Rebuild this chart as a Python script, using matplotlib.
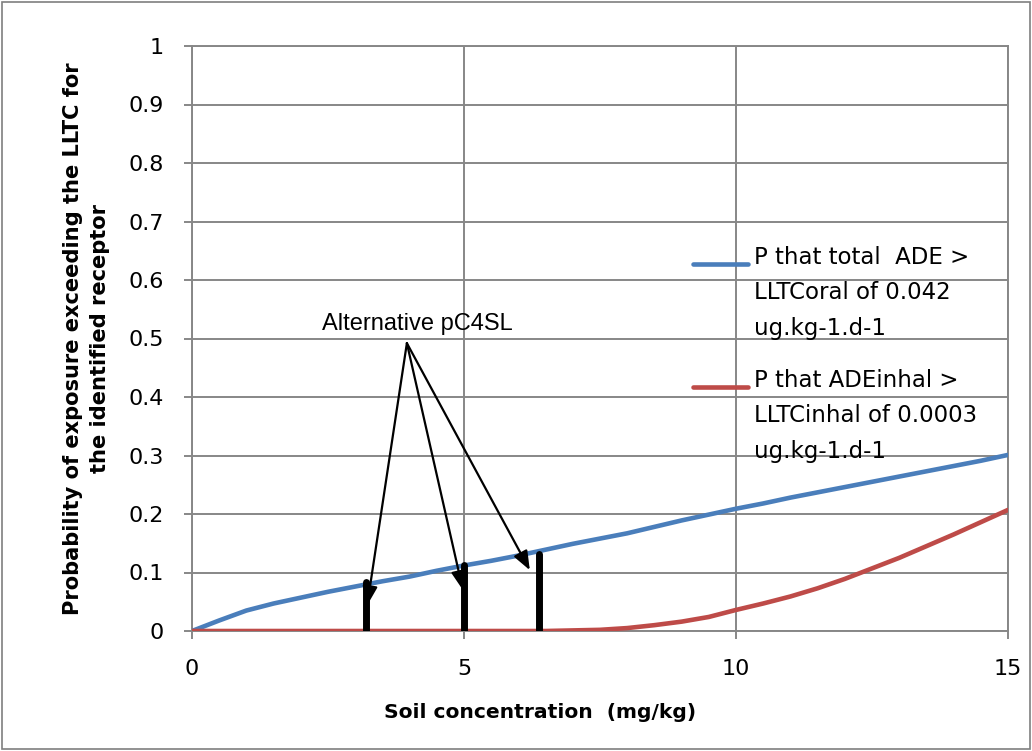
import matplotlib
matplotlib.use("Agg")
import matplotlib.pyplot as plt
from matplotlib.patches import Rectangle
from matplotlib.legend_handler import HandlerLine2D
from matplotlib.lines import Line2D

# ---- data ----
soil_x = [0, 0.5, 1, 1.5, 2, 2.5, 3, 3.5, 4, 4.5, 5, 5.5, 6, 6.5, 7, 7.5, 8, 8.5, 9, 9.5,
          10, 10.5, 11, 11.5, 12, 12.5, 13, 13.5, 14, 14.5, 15]
p_total = [0.0, 0.018, 0.035, 0.047, 0.057, 0.067, 0.076, 0.085, 0.093, 0.103, 0.112, 0.120,
           0.129, 0.139, 0.149, 0.158, 0.167, 0.178, 0.189, 0.199, 0.209, 0.218, 0.228, 0.237,
           0.246, 0.255, 0.264, 0.273, 0.282, 0.291, 0.301]
p_inhal = [0.0, 0.0, 0.0, 0.0, 0.0, 0.0, 0.0, 0.0, 0.0, 0.0, 0.0, 0.0, 0.0, 0.0, 0.001, 0.002,
           0.005, 0.010, 0.016, 0.024, 0.036, 0.047, 0.059, 0.073, 0.089, 0.107, 0.125, 0.145,
           0.165, 0.186, 0.207]
pc4sl_x = [3.2, 5.0, 6.38]
pc4sl_top = [0.084, 0.113, 0.132]
arrow_tips_x = [3.22, 4.98, 6.21]
arrow_tips_y = [0.044, 0.070, 0.104]
annot_text = "Alternative pC4SL"
label_total = "P that total  ADE >\nLLTCoral of 0.042\nug.kg-1.d-1"
label_inhal = "P that ADEinhal >\nLLTCinhal of 0.0003\nug.kg-1.d-1"
x_ticks = [0, 5, 10, 15]
y_ticks = [0, 0.1, 0.2, 0.3, 0.4, 0.5, 0.6, 0.7, 0.8, 0.9, 1]
y_ticklabels = ["0", "0.1", "0.2", "0.3", "0.4", "0.5", "0.6", "0.7", "0.8", "0.9", "1"]

LEG_FS = 16.5
LEG_LS = 1.7


class TopLineHandler(HandlerLine2D):
    """Place the legend line level with the first line of a multi-line label."""
    def create_artists(self, legend, orig_handle, xdescent, ydescent, width, height,
                       fontsize, trans):
        artists = super().create_artists(legend, orig_handle, xdescent, ydescent, width,
                                         height, fontsize, trans)
        shift = fontsize * LEG_LS * 0.76
        for a in artists:
            if isinstance(a, Line2D):
                a.set_ydata([y + shift for y in a.get_ydata()])
        return artists


# ---- figure ----
fig = plt.figure(figsize=(10.32, 7.51), dpi=100)
ax = fig.add_axes([192 / 1032, 1 - 631 / 751, (1008 - 192) / 1032, (631 - 46) / 751])

grid_c = "#878787"
l1, = ax.plot(soil_x, p_total, color="#4A7EBB", lw=3.3, label=label_total, zorder=3,
              solid_capstyle="round")
l2, = ax.plot(soil_x, p_inhal, color="#BE4B48", lw=3.3, label=label_inhal, zorder=3,
              solid_capstyle="round")

ax.vlines(pc4sl_x, 0, pc4sl_top, colors="black", lw=5, zorder=4, capstyle="round")

ax.set_xlim(0, 15)
ax.set_ylim(0, 1)
ax.set_xticks(x_ticks)
ax.set_yticks(y_ticks)
ax.set_yticklabels(y_ticklabels)
ax.grid(True, color=grid_c, lw=1.4)
ax.set_axisbelow(True)
for s in ax.spines.values():
    s.set_color(grid_c)
    s.set_linewidth(1.4)
ax.tick_params(direction="out", length=6, width=1.4, color=grid_c,
               labelsize=16, pad=14.5)
for lab in ax.get_xticklabels() + ax.get_yticklabels():
    lab.set_family("DejaVu Sans")

ax.set_xlabel("Soil concentration  (mg/kg)", fontsize=14.6, fontweight="bold",
              family="DejaVu Sans")
ax.xaxis.set_label_coords((540 - 192) / 816, (631 - 712) / 585)
ax.xaxis.label.set_verticalalignment("center")
ax.set_ylabel("Probability of exposure exceeding the LLTC for\nthe identified receptor",
              fontsize=15.1, fontweight="bold", family="DejaVu Sans", labelpad=13,
              linespacing=1.45)

tail_x, tail_y = 3.95, 0.492
ax.text(4.14, 0.525, annot_text, ha="center", va="center", fontsize=17,
        family="Liberation Sans", zorder=5)
for tx, ty in zip(arrow_tips_x, arrow_tips_y):
    ax.annotate("", xy=(tx, ty), xytext=(tail_x, tail_y),
                arrowprops=dict(arrowstyle="-|>,head_length=1.15,head_width=0.45",
                                color="black", lw=1.6, shrinkA=0, shrinkB=0),
                zorder=5)

leg = ax.legend(handles=[l1, l2], loc="upper left",
                bbox_to_anchor=(693 / 1032, 1 - 245.5 / 751),
                bbox_transform=fig.transFigure, frameon=False,
                prop={"family": "DejaVu Sans", "size": LEG_FS}, handlelength=2.4,
                handletextpad=0.25, labelspacing=1.27, borderaxespad=0, borderpad=0,
                handler_map={Line2D: TopLineHandler()})
for t in leg.get_texts():
    t.set_linespacing(LEG_LS)

fig.patches.append(Rectangle((0.002, 0.002), 0.996, 0.996, transform=fig.transFigure,
                             fill=False, edgecolor="#7f7f7f", lw=1.2))

fig.savefig("out.png", dpi=100)
